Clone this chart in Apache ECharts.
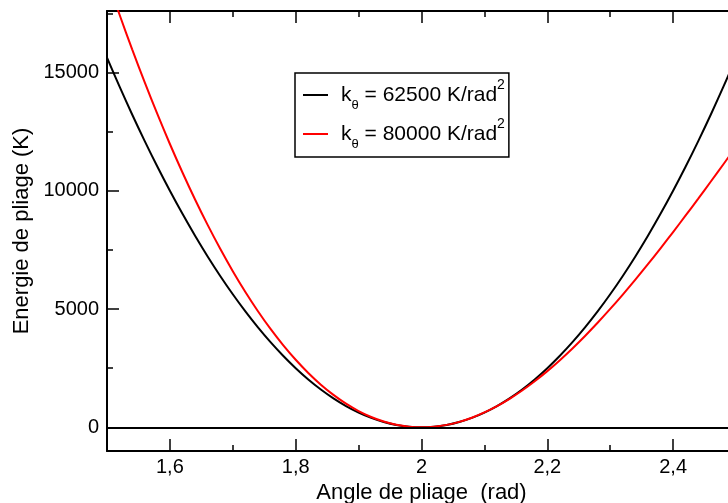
<!DOCTYPE html>
<html><head><meta charset="utf-8">
<script src="https://cdn.jsdelivr.net/npm/echarts@6/dist/echarts.min.js"></script>
<style>html,body{margin:0;padding:0;background:#fff}#c{width:728px;height:503px}</style>
</head><body><div id="c"></div>
<script>
// Bending angle (rad)
const angles = [1.50,1.52,1.54,1.56,1.58,1.60,1.62,1.64,1.66,1.68,1.70,1.72,1.74,1.76,1.78,1.80,1.82,1.84,1.86,1.88,1.90,1.92,1.94,1.96,1.98,2.00,
  2.02,2.04,2.06,2.08,2.10,2.12,2.14,2.16,2.18,2.20,2.22,2.24,2.26,2.28,2.30,2.32,2.34,2.36,2.38,2.40,2.42,2.44,2.46,2.48,2.50];
// Bending energy (K), k_theta = 62500 K/rad^2 (black)
const energyK62500 = [15625,14400,13225,12100,11025,10000,9025,8100,7225,6400,5625,4900,4225,3600,3025,2500,2025,1600,1225,900,625,400,225,100,25,0,
  25,100,225,400,625,900,1225,1600,2025,2500,3025,3600,4225,4900,5625,6400,7225,8100,9025,10000,11025,12100,13225,14400,15625];
// Bending energy (K), k_theta = 80000 K/rad^2 (red)
const energyK80000 = [18964,17441,15980,14582,13248,11978,10773,9633,8558,7548,6603,5724,4910,4161,3477,2856,2299,1804,1372,1001,690,438,244,108,27,0,
  26,104,231,407,629,897,1207,1558,1949,2376,2840,3336,3864,4421,5005,5614,6246,6898,7569,8256,8957,9670,10392,11122,11858];

const seriesKeys = ['62500', '80000'];
const seriesColors = ['#000000', '#ff0000'];
const xMajorTicks = [1.6, 1.8, 2, 2.2, 2.4];
const xMinorTicks = [1.5, 1.7, 1.9, 2.1, 2.3, 2.5];
const yMajorTicks = [0, 5000, 10000, 15000];
const yMinorTicks = [2500, 7500, 12500, 17500];
const xTitle = 'Angle de pliage  (rad)';
const yTitle = 'Energie de pliage (K)';

const FONT = '"Liberation Sans", Arial, Helvetica, sans-serif';
const X_MIN = 1.5, X_MAX = 2.5, Y_MIN = -1000, Y_MAX = 17600;

function xAxisDef(pos, ticks, len, main) {
  return {
    type: 'value', min: X_MIN, max: X_MAX, position: pos,
    axisLine: { show: main, onZero: false, lineStyle: { color: '#000', width: 2 } },
    axisTick: { show: true, inside: true, length: len, customValues: ticks, lineStyle: { color: '#000', width: 1.5 } },
    axisLabel: (main && pos === 'bottom') ? {
      show: true, customValues: ticks, color: '#000', fontSize: 20, fontFamily: FONT, margin: 6,
      formatter: v => String(v).replace('.', ',')
    } : { show: false },
    splitLine: { show: false },
    name: (main && pos === 'bottom') ? xTitle : '',
    nameLocation: 'middle', nameGap: 27,
    nameTextStyle: { color: '#000', fontSize: 22, fontFamily: FONT }
  };
}
function yAxisDef(ticks, len, main) {
  return {
    type: 'value', min: Y_MIN, max: Y_MAX, position: 'left',
    axisLine: { show: main, onZero: false, lineStyle: { color: '#000', width: 2 } },
    axisTick: { show: true, inside: true, length: len, customValues: ticks, lineStyle: { color: '#000', width: 1.5 } },
    axisLabel: main ? { show: true, customValues: ticks, color: '#000', fontSize: 20, fontFamily: FONT, margin: 8,
      formatter: v => String(v) } : { show: false },
    splitLine: { show: false },
    name: main ? yTitle : '',
    nameLocation: 'middle', nameGap: 66, nameRotate: 90,
    nameTextStyle: { color: '#000', fontSize: 22, fontFamily: FONT }
  };
}

const chart = echarts.init(document.getElementById('c'), null, { renderer: 'canvas' });
const dataSets = [energyK62500, energyK80000];
chart.setOption({
  animation: false,
  backgroundColor: '#fff',
  color: seriesColors,
  grid: { left: 107, width: 629, top: 11, height: 440, containLabel: false, outerBoundsMode: 'none' },
  xAxis: [
    xAxisDef('bottom', xMajorTicks, 12, true),
    xAxisDef('bottom', xMinorTicks, 6, false),
    xAxisDef('top', xMajorTicks, 12, true),
    xAxisDef('top', xMinorTicks, 6, false)
  ],
  yAxis: [
    yAxisDef(yMajorTicks, 12, true),
    yAxisDef(yMinorTicks, 6, false)
  ],
  legend: {
    orient: 'vertical', left: 295, top: 73,
    data: seriesKeys,
    icon: 'rect', itemWidth: 25, itemHeight: 2, itemGap: 5,
    borderColor: '#000', borderWidth: 1.5, padding: [5, 4, 6, 8],
    selectedMode: false,
    formatter: name => '{k|k}{s|\u03b8}{t| = ' + name + ' K/rad}{p|2}',
    textStyle: {
      color: '#000', fontFamily: FONT,
      rich: {
        k: { fontSize: 21, fontFamily: FONT, color: '#000', lineHeight: 34, padding: [0, 0, 0, 8] },
        s: { fontSize: 13, fontFamily: FONT, color: '#000', lineHeight: 12, verticalAlign: 'bottom' },
        t: { fontSize: 21, fontFamily: FONT, color: '#000', lineHeight: 34 },
        p: { fontSize: 14, fontFamily: FONT, color: '#000', lineHeight: 28, verticalAlign: 'top' }
      }
    }
  },
  series: seriesKeys.map((key, i) => ({
    name: key,
    type: 'line',
    xAxisIndex: 0, yAxisIndex: 0,
    data: angles.map((a, j) => [a, dataSets[i][j]]),
    showSymbol: false, symbol: 'none',
    smooth: 0.4,
    clip: true,
    lineStyle: { color: seriesColors[i], width: 2 },
    z: 3 + i,
    markLine: i === 0 ? {
      silent: true, symbol: 'none', label: { show: false },
      lineStyle: { color: '#000', width: 2, type: 'solid' },
      data: [{ yAxis: 0 }]
    } : undefined
  }))
});
</script></body></html>
